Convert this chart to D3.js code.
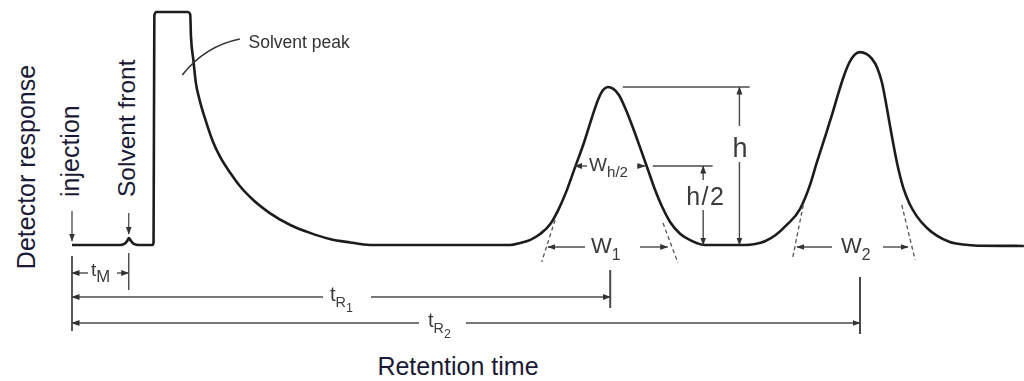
<!DOCTYPE html>
<html>
<head>
<meta charset="utf-8">
<script src="https://cdn.jsdelivr.net/npm/d3@7/dist/d3.min.js"></script>
<style>
  body { margin: 0; background: #fff; }
  svg { display: block; }
</style>
</head>
<body>
<svg id="chart" width="1024" height="381"></svg>
<script>
// Detector trace: retention time (injection = 0, second peak = 100) and response (% of full scale)
const traceTime = [0, 6.1, 6.6, 7.0, 7.2, 7.5, 7.9, 8.4, 10.2, 10.35, 10.45, 10.7, 14.7, 15.0,
  15.1, 15.4, 15.7, 16.2, 16.9, 17.8, 18.8, 20.1, 21.3, 23.0, 25.1, 27.7, 30.2, 32.7, 35.3, 37.8, 55.6,
  56.9, 58.1, 59.4, 60.7, 61.7, 62.7, 63.8, 65.0, 66.0, 66.8, 67.4, 68.0, 68.7, 69.4, 70.2, 71.2, 72.2,
  73.1, 74.0, 74.9, 75.9, 77.2, 78.7, 80.3, 85.4,
  86.7, 88.0, 89.3, 90.7, 92.4, 93.7, 94.5, 95.8, 96.5, 97.2, 97.9, 98.6, 99.3, 100, 100.8, 101.5,
  102.2, 102.8, 103.4, 104.0, 104.7, 105.5, 106.3, 107.2, 108.5, 109.8, 111.4, 113.1, 115.0, 120.8];
const traceResponse = [0, 0, 0.4, 1.7, 3.0, 1.7, 0.4, 0, 0, 0.9, 98.7, 100, 100, 99.1,
  89.3, 79.4, 70.0, 62.2, 54.1, 45.1, 37.8, 30.9, 25.3, 19.3, 13.7, 8.6, 5.2, 2.6, 1.1, 0, 0,
  0.9, 2.1, 4.7, 9.0, 15.0, 22.7, 33.0, 44.2, 54.9, 62.7, 66.5, 67.8, 67.0, 64.4, 58.8, 50.2, 40.8,
  32.2, 23.6, 16.3, 9.9, 4.7, 1.7, 0, 0,
  0.4, 1.7, 4.3, 8.6, 15.5, 26.2, 35.2, 48.9, 56.5, 64.5, 72.0, 78.0, 81.6, 82.8, 82.0, 80.0,
  76.0, 69.5, 59.0, 47.5, 35.2, 24.5, 17.6, 12.4, 7.3, 3.9, 1.3, 0.2, -0.3, -0.4];

// Retention times marked below the trace
const timeLabels = ["M", "R1", "R2"];
const timeValues = [7.2, 68.3, 100];

// First peak: apex height and the widths measured on it
const peak1Height = 67.8;
const halfWidth1 = [63.8, 72.7];   // width at half height
const baseWidth1 = [60.4, 75.6];   // tangent intercepts on the baseline
const baseWidth2 = [92.0, 106.1];

// Inflection tangents: [t0, r0, t1, r1]
const tangents = [
  [61.3, 10.7, 59.6, -7.3],
  [75.0, 9.4, 76.9, -7.7],
  [92.8, 17.2, 91.4, -6.4],
  [105.3, 17.2, 107.0, -6.4]
];

const svg = d3.select("#chart");
const x = d3.scaleLinear().domain([0, 100]).range([72, 860]);
const y = d3.scaleLinear().domain([0, 100]).range([245, 12]);

const ink = "#1c1c1c", note = "#4a4a4a", label = "#1a1a36";
const noteFont = "'Liberation Sans', Arial, sans-serif";
const labelFont = "'Liberation Sans', Arial, sans-serif";

const defs = svg.append("defs");
defs.append("marker").attr("id", "head")
  .attr("viewBox", "0 -4 8 8").attr("refX", 7.5).attr("refY", 0)
  .attr("markerWidth", 8).attr("markerHeight", 8).attr("markerUnits", "userSpaceOnUse")
  .attr("orient", "auto")
  .append("path").attr("d", "M0,-3L8,0L0,3Z").attr("fill", "#333");
defs.append("filter").attr("id", "soft")
  .append("feGaussianBlur").attr("stdDeviation", 0.45);

const g = svg.append("g").attr("filter", "url(#soft)");

function arrow(x1, y1, x2, y2, w = 1.4, col = note) {
  g.append("line").attr("x1", x1).attr("y1", y1).attr("x2", x2).attr("y2", y2)
    .attr("stroke", col).attr("stroke-width", w).attr("marker-end", "url(#head)");
}
function rule(x1, y1, x2, y2, w = 1.5, col = note) {
  g.append("line").attr("x1", x1).attr("y1", y1).attr("x2", x2).attr("y2", y2)
    .attr("stroke", col).attr("stroke-width", w);
}
function noteText(px, py, main, sub, subsub, size = 20, subScale = 0.72) {
  const t = g.append("text").attr("x", px).attr("y", py)
    .attr("font-family", noteFont).attr("font-size", size).attr("fill", "#3a3a3a");
  t.append("tspan").text(main);
  if (sub) t.append("tspan").attr("dy", size * 0.3).attr("font-size", size * subScale).text(sub);
  if (subsub) t.append("tspan").attr("dy", size * 0.25).attr("font-size", size * 0.62).text(subsub);
  return t;
}

// Trace
const pts = traceTime.map((t, i) => [t, traceResponse[i]]);
g.append("path").datum(pts)
  .attr("d", d3.line().x(d => x(d[0])).y(d => y(d[1])).curve(d3.curveMonotoneX))
  .attr("fill", "none").attr("stroke", ink).attr("stroke-width", 2.6)
  .attr("stroke-linejoin", "round");

// Solvent peak leader
g.append("path")
  .attr("d", `M${x(21.3)},${y(88.4)} Q${x(16.9)},${y(85.4)} ${x(14.0)},${y(73)}`)
  .attr("fill", "none").attr("stroke", "#333").attr("stroke-width", 1.6);
g.append("text").attr("x", x(22.4)).attr("y", 48)
  .attr("font-family", labelFont).attr("font-size", 17.5).attr("fill", "#333")
  .text("Solvent peak");

// Injection and solvent front arrows
arrow(x(0), 211, x(0), 241, 1.3);
arrow(x(timeValues[0]), 213, x(timeValues[0]), 234, 1.3);

// Retention time brackets
rule(x(0), 256, x(0), 331, 1.8);
rule(x(timeValues[0]), 253, x(timeValues[0]), 290, 1.4);
rule(x(timeValues[1]), 270, x(timeValues[1]), 308, 2);
rule(x(timeValues[2]), 277, x(timeValues[2]), 334, 2);

arrow(88, 273, x(0), 273, 1.4);
arrow(117, 273, x(timeValues[0]), 273, 1.4);
noteText(91, 276, "t", timeLabels[0], null, 19, 0.88);

arrow(323, 297, x(0), 297, 1.6);
arrow(371, 297, x(timeValues[1]), 297, 1.6);
noteText(330, 301, "t", timeLabels[1][0], timeLabels[1][1], 20);

arrow(419, 323, x(0), 323, 1.6);
arrow(466, 323, x(timeValues[2]), 323, 1.6);
noteText(428, 327, "t", timeLabels[2][0], timeLabels[2][1], 20);

// Height h and h/2
const yTop = y(peak1Height), yHalf = y(peak1Height / 2), yBase = y(0);
rule(x(69.9), yTop, x(86.0), yTop, 1.6);
arrow(x(84.7), 126, x(84.7), yTop, 1.4);
arrow(x(84.7), 162, x(84.7), yBase, 1.4);
noteText(x(84.7) - 7, 157, "h", null, null, 27);

rule(x(73.7), yHalf, x(81.3), yHalf, 1.6);
arrow(x(80.1), 180, x(80.1), yHalf, 1.4);
arrow(x(80.1), 210, x(80.1), yBase, 1.4);
noteText(x(80.1) - 17, 205, "h/2", null, null, 25).attr("letter-spacing", 1.5);

// Width at half height
arrow(587, yHalf, x(halfWidth1[0]), yHalf, 1.4);
arrow(637, yHalf, x(halfWidth1[1]), yHalf, 1.4);
noteText(589, 171, "W", "h/2", null, 19, 0.8);

// Tangent lines
tangents.forEach(d => {
  g.append("line").attr("x1", x(d[0])).attr("y1", y(d[1])).attr("x2", x(d[2])).attr("y2", y(d[3]))
    .attr("stroke", "#555").attr("stroke-width", 1.3).attr("stroke-dasharray", "4,3");
});

// Baseline widths
arrow(585, 247, x(baseWidth1[0]), 247, 1.4);
arrow(640, 247, x(baseWidth1[1]), 247, 1.4);
noteText(591, 253, "W", "1", null, 22);

arrow(832, 247, x(baseWidth2[0]), 247, 1.4);
arrow(883, 247, x(baseWidth2[1]), 247, 1.4);
noteText(841, 253, "W", "2", null, 22);

// Axis captions and labels
svg.append("text").attr("transform", "translate(35,167) rotate(-90)")
  .attr("text-anchor", "middle").attr("font-family", labelFont).attr("font-size", 25)
  .attr("fill", label).text("Detector response");
svg.append("text").attr("transform", "translate(79,197) rotate(-90)")
  .attr("font-family", labelFont).attr("font-size", 25).attr("fill", label).text("injection");
svg.append("text").attr("transform", "translate(135,197) rotate(-90)")
  .attr("font-family", labelFont).attr("font-size", 24.5).attr("fill", label).text("Solvent front");
svg.append("text").attr("x", 458).attr("y", 375).attr("text-anchor", "middle")
  .attr("font-family", labelFont).attr("font-size", 25).attr("fill", label).text("Retention time");
</script>
</body>
</html>
